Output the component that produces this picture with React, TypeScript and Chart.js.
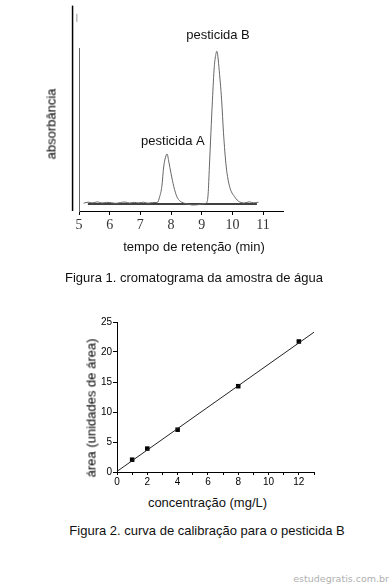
import React, { useEffect, useRef } from "react";
import { Chart, registerables } from "chart.js";

Chart.register(...registerables);

// ---- Figure 1: chromatogram ----
const chromTime = [
  5.15, 5.3, 5.45, 5.6, 5.75, 5.9, 6.05, 6.2, 6.35, 6.5, 6.65, 6.8, 6.95, 7.1, 7.25, 7.4, 7.55,
  7.63, 7.7, 7.76, 7.82, 7.87, 7.93, 8.0, 8.09, 8.19, 8.3, 8.4, 8.55, 8.7, 8.85, 9.0, 9.1,
  9.16, 9.21, 9.25, 9.3, 9.35, 9.41, 9.46, 9.49, 9.52, 9.56, 9.65, 9.71, 9.8, 9.91, 10.07,
  10.24, 10.4, 10.55, 10.7, 10.85,
];
const chromAbs = [
  4.8, 5.4, 5.0, 5.6, 4.9, 5.3, 5.1, 4.7, 5.2, 5.5, 4.9, 5.3, 5.0, 5.4, 4.8, 5.2, 5.2,
  8.8, 15, 27, 33, 35, 30, 23, 15, 8.8, 6, 5, 4.2, 3.7, 3.8, 4.2, 4.6,
  5, 10.6, 27, 48, 68, 88.5, 96, 98, 96, 88.5, 68, 48, 27, 15, 8.8,
  5.5, 5.0, 5.6, 5.0, 5.4,
];
const baselineTime = [5.29, 10.8];
const baselineAbs = [4.3, 4.3];
const solventTime = [4.79, 4.79];
const solventAbs = [0, 126];
const markTime = [4.93, 4.93];
const markAbs = [116, 121];
const chromTicks = [5, 6, 7, 8, 9, 10, 11];
const peakLabels = ["pesticida A", "pesticida B"];
const peakLabelTime = [8.06, 9.53];
const peakLabelAbs = [42.6, 108];

// ---- Figure 2: calibration curve ----
const concentration = [1, 2, 4, 8, 12];
const area = [2.05, 3.9, 7.05, 14.3, 21.75];
const fitConc = [0, 13];
const fitArea = [0.1, 23.3];
const concTicks = [0, 1, 2, 3, 4, 5, 6, 7, 8, 9, 10, 11, 12, 13];
const concTickLabels = ["0", "", "2", "", "4", "", "6", "", "8", "", "10", "", "12", ""];
const areaTicks = [0, 5, 10, 15, 20, 25];

const pts = (xs: number[], ys: number[]) => xs.map((x, i) => ({ x, y: ys[i] }));

const peakLabelPlugin = {
  id: "peakLabels",
  afterDatasetsDraw(chart: any) {
    const { ctx, scales } = chart;
    ctx.save();
    ctx.font = "13px 'Liberation Sans', Arial, sans-serif";
    ctx.fillStyle = "#111";
    ctx.textAlign = "center";
    ctx.textBaseline = "middle";
    peakLabels.forEach((t, i) => {
      ctx.fillText(t, scales.x.getPixelForValue(peakLabelTime[i]), scales.y.getPixelForValue(peakLabelAbs[i]));
    });
    ctx.restore();
  },
};

function TopChart() {
  const ref = useRef<HTMLCanvasElement>(null);
  useEffect(() => {
    const chart = new Chart(ref.current!, {
      type: "line",
      data: {
        datasets: [
          { data: pts(chromTime, chromAbs), borderColor: "#666", borderWidth: 1, pointRadius: 0, cubicInterpolationMode: "monotone" } as any,
          { data: pts(baselineTime, baselineAbs), borderColor: "#000", borderWidth: 1.5, pointRadius: 0 },
          { data: pts(solventTime, solventAbs), borderColor: "#000", borderWidth: 1.5, pointRadius: 0, clip: false } as any,
          { data: pts(markTime, markAbs), borderColor: "#999", borderWidth: 1, pointRadius: 0, clip: false } as any,
        ],
      },
      options: {
        responsive: false,
        animation: false,
        layout: { padding: { left: 0, top: 48, right: 108, bottom: 0 } },
        plugins: { legend: { display: false }, tooltip: { enabled: false } },
        scales: {
          x: {
            type: "linear",
            min: 5,
            max: 11.65,
            afterBuildTicks: (s: any) => { s.ticks = chromTicks.map((v) => ({ value: v })); },
            afterFit: (s: any) => { s.height = 29; },
            grid: { drawOnChartArea: false, drawTicks: true, tickLength: 4, color: "#000" },
            border: { display: true, color: "#000", width: 1 },
            ticks: { padding: 2, maxRotation: 0, minRotation: 0, autoSkip: false, color: "#333", font: { family: "'Liberation Serif', serif", size: 14 } },
          },
          y: {
            type: "linear",
            min: 0,
            max: 100,
            afterFit: (s: any) => { s.width = 79; },
            grid: { display: false },
            border: { display: true, color: "#666", width: 1 },
            ticks: { display: false },
          },
        },
      },
      plugins: [peakLabelPlugin],
    });
    return () => chart.destroy();
  }, []);
  return <canvas ref={ref} width={391} height={240} style={{ position: "absolute", left: 0, top: 0 }} />;
}

function BottomChart() {
  const ref = useRef<HTMLCanvasElement>(null);
  useEffect(() => {
    const tickFont = { family: "'Liberation Sans', Arial, sans-serif", size: 10 };
    const chart = new Chart(ref.current!, {
      type: "scatter",
      data: {
        datasets: [
          { type: "line", data: pts(fitConc, fitArea), borderColor: "#222", borderWidth: 1, pointRadius: 0 } as any,
          { data: pts(concentration, area), backgroundColor: "#000", borderColor: "#000", pointStyle: "rect", pointRadius: 3.2, borderWidth: 0 },
        ],
      },
      options: {
        responsive: false,
        animation: false,
        layout: { padding: { left: 0, top: 22, right: 77, bottom: 0 } },
        plugins: { legend: { display: false }, tooltip: { enabled: false } },
        scales: {
          x: {
            type: "linear",
            min: 0,
            max: 13,
            afterBuildTicks: (s: any) => { s.ticks = concTicks.map((v) => ({ value: v })); },
            afterFit: (s: any) => { s.height = 18; },
            grid: { drawOnChartArea: false, drawTicks: true, tickLength: 3, color: "#000" },
            border: { display: true, color: "#000", width: 1 },
            ticks: {
              padding: 1,
              maxRotation: 0,
              minRotation: 0,
              autoSkip: false,
              color: "#000",
              font: tickFont,
              callback: (_v: any, i: number) => concTickLabels[i],
            },
          },
          y: {
            type: "linear",
            min: 0,
            max: 25,
            afterBuildTicks: (s: any) => { s.ticks = areaTicks.map((v) => ({ value: v })); },
            afterFit: (s: any) => { s.width = 117; },
            grid: { drawOnChartArea: false, drawTicks: true, tickLength: 4, color: "#000" },
            border: { display: true, color: "#000", width: 1 },
            ticks: { padding: 1, autoSkip: false, color: "#000", font: tickFont },
          },
        },
      },
    });
    return () => chart.destroy();
  }, []);
  return <canvas ref={ref} width={391} height={190} style={{ position: "absolute", left: 0, top: 300 }} />;
}

const txt = (cx: number, cy: number, rotate = false): React.CSSProperties => ({
  position: "absolute",
  left: cx,
  top: cy,
  transform: `translate(-50%, -50%)${rotate ? " rotate(-90deg)" : ""}`,
  whiteSpace: "nowrap",
  fontFamily: "'Liberation Sans', Arial, sans-serif",
  fontSize: 13,
  lineHeight: 1,
  color: rotate ? "#000" : "#111",
});

export default function App() {
  useEffect(() => {
    document.body.style.margin = "0";
  }, []);
  return (
    <div style={{ position: "relative", width: 391, height: 586, background: "#fff", overflow: "hidden" }}>
      <TopChart />
      <BottomChart />
      <div style={txt(50.5, 124, true)}>absorbância</div>
      <div style={txt(194, 246)}>tempo de retenção (min)</div>
      <div style={txt(194, 277)}>Figura 1. cromatograma da amostra de água</div>
      <div style={txt(91.4, 408, true)}>área (unidades de área)</div>
      <div style={txt(207.5, 501.5)}>concentração (mg/L)</div>
      <div style={txt(207, 529.5)}>Figura 2. curva de calibração para o pesticida B</div>
      <div
        style={{
          position: "absolute",
          right: 2,
          top: 579,
          transform: "translateY(-50%)",
          whiteSpace: "nowrap",
          fontFamily: "'DejaVu Sans', sans-serif",
          fontSize: 9.5,
          lineHeight: 1,
          color: "#b0b0b0",
        }}
      >
        estudegratis.com.br
      </div>
    </div>
  );
}
